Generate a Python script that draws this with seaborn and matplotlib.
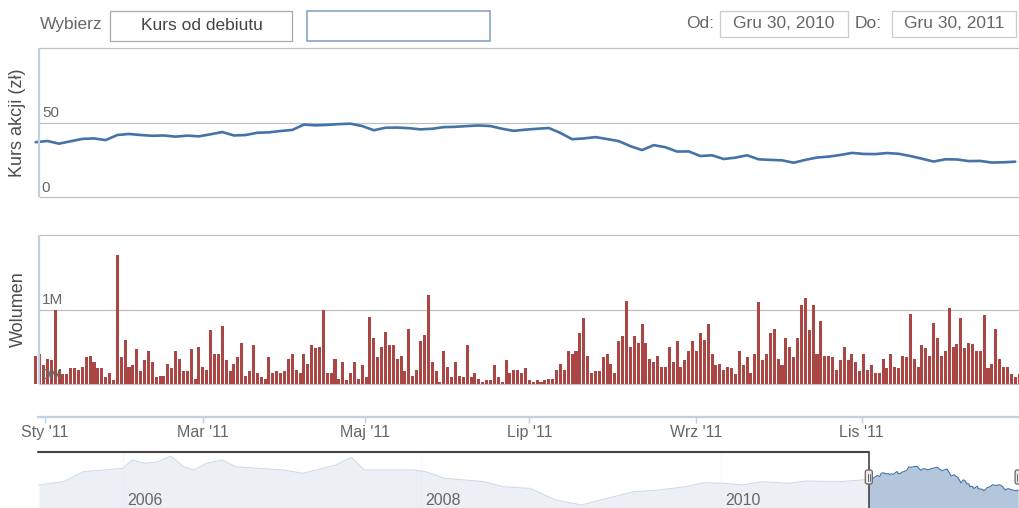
import numpy as np
import pandas as pd
import matplotlib
matplotlib.use("Agg")
import matplotlib.pyplot as plt
import matplotlib.dates as mdates
from matplotlib.patches import Rectangle, FancyBboxPatch
import seaborn as sns

W, H = 1019, 508

# sesje GPW 29.12.2010 - 30.12.2011, dni wolne w tygodniu
holidays = ["2011-01-06", "2011-04-22", "2011-04-25", "2011-05-03", "2011-06-23",
            "2011-08-15", "2011-11-01", "2011-11-11", "2011-12-26"]

# wolumen (mln akcji) dla kazdej sesji
volume_m = [
    0.38, 0.40, 0.25, 0.34, 0.32, 1.00, 0.19, 0.14, 0.14, 0.22,
    0.22, 0.19, 0.23, 0.36, 0.38, 0.30, 0.21, 0.21, 0.09, 0.15,
    0.05, 1.73, 0.36, 0.59, 0.23, 0.26, 0.47, 0.17, 0.32, 0.45,
    0.29, 0.09, 0.11, 0.11, 0.27, 0.21, 0.45, 0.33, 0.17, 0.17,
    0.47, 0.07, 0.50, 0.23, 0.19, 0.72, 0.41, 0.40, 0.78, 0.32,
    0.17, 0.27, 0.36, 0.55, 0.11, 0.17, 0.52, 0.15, 0.09, 0.07,
    0.36, 0.15, 0.17,
    0.15, 0.17, 0.33, 0.40, 0.19, 0.15, 0.40, 0.27, 0.52, 0.48,
    0.50, 1.00, 0.15, 0.15, 0.33, 0.07, 0.29, 0.05, 0.15, 0.29,
    0.07, 0.25, 0.09, 0.90, 0.62, 0.36, 0.50, 0.70, 0.52, 0.52,
    0.33, 0.37, 0.17, 0.74, 0.11, 0.19, 0.58, 0.66, 1.20, 0.29,
    0.17, 0.03, 0.45, 0.23, 0.09, 0.29, 0.11, 0.09, 0.52, 0.09,
    0.15, 0.07, 0.03, 0.05, 0.05, 0.25, 0.09, 0.03, 0.32, 0.15,
    0.19, 0.19, 0.15, 0.21,
    0.05, 0.03, 0.05, 0.03, 0.05, 0.07, 0.07, 0.19, 0.27, 0.19,
    0.44, 0.40, 0.44, 0.68, 0.88, 0.37, 0.15, 0.17, 0.17, 0.36,
    0.40, 0.27, 0.15, 0.58, 0.64, 1.12, 0.50, 0.64, 0.55, 0.80,
    0.55, 0.33, 0.29, 0.37, 0.23, 0.23, 0.50, 0.29, 0.58, 0.23,
    0.32, 0.45, 0.58, 0.45, 0.68, 0.59, 0.80, 0.41, 0.25, 0.27,
    0.19, 0.23, 0.21, 0.13, 0.45, 0.25, 0.36, 0.15, 0.41, 1.10,
    0.32, 0.40, 0.68,
    0.74, 0.33, 0.25, 0.62, 0.50, 0.36, 0.62, 1.06, 1.16, 0.72,
    1.06, 0.41, 0.84, 0.37, 0.37, 0.36, 0.19, 0.32, 0.50, 0.32,
    0.41, 0.29, 0.17, 0.40, 0.19, 0.25, 0.15, 0.15, 0.33, 0.21,
    0.41, 0.23, 0.21, 0.37, 0.36, 0.94, 0.33, 0.23, 0.52, 0.48,
    0.37, 0.82, 0.62, 0.37, 0.45, 1.02, 0.50, 0.54, 0.88, 0.48,
    0.55, 0.54, 0.45, 0.44, 0.92, 0.21, 0.27, 0.74, 0.33, 0.23,
    0.23, 0.13, 0.09, 0.13,
]

# kurs (zl), co trzecia sesja
price = [
    36.8, 37.6, 35.8, 37.4, 39.0, 39.3, 38.2, 41.6, 42.3, 41.6,
    41.1, 41.3, 40.5, 41.2, 40.7, 42.1, 43.6, 41.3, 41.6, 43.1,
    43.4, 44.3, 45.0, 48.6, 48.1, 48.4, 48.9, 49.2, 47.6, 44.8,
    46.5, 46.6, 46.2, 45.4, 45.8, 46.9, 47.1, 47.6, 48.0, 47.6,
    45.8, 44.4, 45.2, 45.8, 46.3, 43.0, 38.8, 39.3, 40.2, 38.9,
    37.5, 34.1, 31.5, 34.8, 33.4, 30.5, 30.6, 27.5, 28.0, 25.5,
    26.4, 28.0, 25.3, 24.9, 24.6, 23.0, 24.9, 26.5, 27.1, 28.2,
    29.6, 28.9, 28.8, 29.5, 29.0, 27.5, 25.7, 23.8, 25.3, 25.2,
    24.1, 24.2, 23.1, 23.3, 23.7,
]

month_starts = ["2011-01-01", "2011-03-01", "2011-05-01", "2011-07-01", "2011-09-01", "2011-11-01"]
month_labels = ["Sty '11", "Mar '11", "Maj '11", "Lip '11", "Wrz '11", "Lis '11"]

# historia kursu do nawigatora
nav_dates = [
    "2005-06-10", "2005-08-10", "2005-09-27", "2005-11-14", "2006-01-01", "2006-01-24",
    "2006-02-24", "2006-03-28", "2006-04-28", "2006-05-30", "2006-06-24", "2006-07-24",
    "2006-09-01", "2006-10-04", "2006-11-28", "2007-01-30", "2007-03-17", "2007-05-04",
    "2007-06-05", "2007-07-14", "2007-08-14", "2007-10-09", "2007-12-11", "2008-01-12",
    "2008-02-27", "2008-04-16", "2008-06-02", "2008-07-20", "2008-09-22", "2008-11-24",
    "2009-01-26", "2009-03-30", "2009-06-02", "2009-08-04", "2009-10-06", "2009-11-21",
    "2010-01-08", "2010-02-24", "2010-04-12", "2010-06-14", "2010-07-29", "2010-10-17",
    "2010-12-12",
]
nav_price = [
    29.3, 32.8, 43.4, 45.2, 47.0, 55.9, 52.3, 54.0, 60.1, 48.7, 45.2, 52.3,
    55.9, 48.7, 47.0, 45.2, 41.7, 47.0, 50.5, 58.7, 45.2, 45.2, 45.2, 43.4,
    36.4, 34.6, 32.8, 27.4, 25.7, 13.3, 8.0, 15.1, 22.1, 23.9, 27.4, 31.7,
    31.1, 29.3, 32.8, 31.1, 33.5, 32.8, 34.6,
]
year_labels = [2006, 2008, 2010]

BLUE = "#4572A7"
RED = "#AA4643"
AXIS = "#C0D0E0"
GRID = "#C0C0C0"
GREY = "#666666"

sns.set_theme(style="white")
plt.rcParams["font.family"] = ["Liberation Sans", "DejaVu Sans"]

sessions = pd.bdate_range("2010-12-29", "2011-12-30")
sessions = sessions[~sessions.isin(pd.to_datetime(holidays))]
assert len(sessions) == len(volume_m)
idx = np.arange(len(sessions))
price_idx = idx[::3]
tick_pos = np.interp(pd.to_datetime(month_starts).asi8, sessions.asi8, idx)


def box(l, t, r, b):
    return [l / W, 1 - b / H, (r - l) / W, (b - t) / H]


fig = plt.figure(figsize=(W / 100, H / 100), dpi=100)
ax_p = fig.add_axes(box(33, 48, 1019, 197))
ax_v = fig.add_axes(box(33, 235, 1019, 417))
ax_n = fig.add_axes(box(38, 452, 1019, 512.5))
over = fig.add_axes([0, 0, 1, 1], zorder=20)
over.set_xlim(0, W)
over.set_ylim(H, 0)
over.axis("off")

step = 3.887
xlim = ((33 - 35.7) / step, (1019 - 35.7) / step)
x_axis = (39 - 35.7) / step

# --- kurs ---
sns.lineplot(x=price_idx, y=price, ax=ax_p, color=BLUE, lw=1.9, zorder=3)
ax_p.set_xlim(*xlim)
ax_p.set_ylim(0, 100)
ax_p.hlines([0, 50, 100], x_axis, xlim[1], color=GRID, lw=0.9, zorder=0.5, clip_on=False)
ax_p.vlines(x_axis, 0, 100, color=AXIS, lw=1.6, zorder=4)
for v in [0, 50]:
    ax_p.annotate(str(v), xy=(0.009, v), xycoords=("axes fraction", "data"),
                  xytext=(0, 1.5), textcoords="offset points",
                  ha="left", va="bottom", fontsize=11, color=GREY, zorder=5)

# --- wolumen ---
sns.barplot(x=idx, y=volume_m, ax=ax_v, color=RED, saturation=1, width=0.78,
            linewidth=0, zorder=2)
ax_v.set_xlim(*xlim)
ax_v.set_ylim(-0.442, 2.0)
ax_v.hlines([0, 1, 2], x_axis, xlim[1], color=GRID, lw=0.9, zorder=0.5, clip_on=False)
ax_v.vlines(x_axis, 0, 2, color=AXIS, lw=1.6, zorder=4)
ax_v.hlines(-0.442, x_axis - 0.4, xlim[1], color=AXIS, lw=1.6, zorder=4, clip_on=False)
for v in [0, 1]:
    ax_v.annotate(f"{v}M", xy=(0.009, v), xycoords=("axes fraction", "data"),
                  xytext=(0, 1.5), textcoords="offset points",
                  ha="left", va="bottom", fontsize=11, color=GREY, zorder=5)
ax_v.set_xticks(tick_pos)
ax_v.set_xticklabels(month_labels)
ax_v.tick_params(axis="x", bottom=True, length=4.3, width=1, color=AXIS, pad=1.5,
                 labelsize=11.5, labelcolor=GREY)

for ax in (ax_p, ax_v):
    ax.set_yticks([])
    ax.set_xlabel("")
    ax.set_ylabel("")
    for s in ax.spines.values():
        s.set_visible(False)
ax_p.set_xticks([])

over.text(18, 122.5, "Kurs akcji (zł)", rotation=90, ha="center", va="center",
          fontsize=13, color="#4d4d4d")
over.text(18, 309, "Wolumen", rotation=90, ha="center", va="center",
          fontsize=13, color="#4d4d4d")

# --- nawigator ---
nav_x = list(pd.to_datetime(nav_dates)) + list(sessions[::3])
nav_y = nav_price + price
n_lo, n_hi = mdates.date2num(pd.Timestamp("2005-06-08")), mdates.date2num(pd.Timestamp("2011-12-31"))
for yr in year_labels:
    yn = mdates.date2num(pd.Timestamp(f"{yr}-01-01"))
    ax_n.axvline(yn, color="#E6E6E6", lw=0.9, zorder=0)
    ax_n.annotate(str(yr), xy=(yn, 0.2), xycoords=("data", "axes fraction"),
                  xytext=(3, 0), textcoords="offset points", ha="left", va="center",
                  fontsize=11.5, color=GREY, zorder=6)
ax_n.fill_between(nav_x, nav_y, 0, color=BLUE, alpha=0.4, lw=0, zorder=1)
sns.lineplot(x=nav_x, y=nav_y, ax=ax_n, color=BLUE, lw=0.8, zorder=2)
ax_n.set_xlim(n_lo, n_hi)
ax_n.set_ylim(0, 64.4)
sel_lo = mdates.date2num(sessions[0])
sel_hi = mdates.date2num(sessions[-1])
ax_n.axvspan(n_lo, sel_lo, color="white", alpha=0.75, lw=0, zorder=3)
ax_n.axhline(64.4, xmin=0, xmax=(sel_lo - n_lo) / (n_hi - n_lo), color="#444444",
             lw=1.5, clip_on=False, zorder=5)
ax_n.axvline(sel_lo, color="#444444", lw=1.2, zorder=5)
ax_n.set_xticks([])
ax_n.set_yticks([])
ax_n.set_xlabel("")
ax_n.set_ylabel("")
for s in ax_n.spines.values():
    s.set_visible(False)

for d in (sel_lo, sel_hi):
    hx = ax_n.transData.transform((d, 0))[0]
    over.add_patch(FancyBboxPatch((hx - 3.5, 470), 7, 14, boxstyle="round,pad=0,rounding_size=2",
                                  fc="#EBE7E8", ec="#666666", lw=0.9))
    for dx in (-1.3, 1.3):
        over.plot([hx + dx, hx + dx], [473.5, 480.5], color="#666666", lw=0.7)

# --- pasek wyboru zakresu ---
over.text(40, 25, "Wybierz", ha="left", va="center", fontsize=12.5, color=GREY)
over.add_patch(Rectangle((110.5, 10.5), 182, 30.5, fc="white", ec="#A8A8A8", lw=0.9))
over.text(201.5, 25, "Kurs od debiutu", ha="center", va="center", fontsize=12.5, color="#444444")
over.add_patch(Rectangle((307.5, 10.5), 183, 30.5, fc="white", ec="#7D9CC2", lw=1.1))
over.text(686, 23, "Od:", ha="left", va="center", fontsize=12.5, color=GREY)
over.add_patch(Rectangle((720.5, 10.5), 127.5, 26, fc="white", ec="#CCCCCC", lw=0.9))
over.text(784, 23, "Gru 30, 2010", ha="center", va="center", fontsize=12.5, color=GREY)
over.text(855, 23, "Do:", ha="left", va="center", fontsize=12.5, color=GREY)
over.add_patch(Rectangle((892.5, 10.5), 124, 26, fc="white", ec="#CCCCCC", lw=0.9))
over.text(954.5, 23, "Gru 30, 2011", ha="center", va="center", fontsize=12.5, color=GREY)

fig.savefig("out.png", dpi=100)
